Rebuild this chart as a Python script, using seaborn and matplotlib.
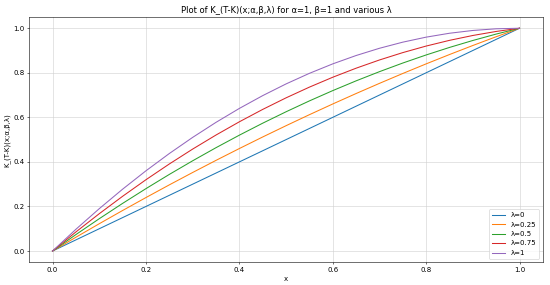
import pandas as pd
import seaborn as sns
import matplotlib
matplotlib.use("Agg")
import matplotlib.pyplot as plt

# values (x grid and curve heights per lambda)
x_vals = [0.0, 0.05, 0.1, 0.15, 0.2, 0.25, 0.3, 0.35, 0.4, 0.45, 0.5,
          0.55, 0.6, 0.65, 0.7, 0.75, 0.8, 0.85, 0.9, 0.95, 1.0]
lam_labels = ["λ=0", "λ=0.25", "λ=0.5", "λ=0.75", "λ=1"]
k_lam0 = [0.0, 0.05, 0.10, 0.15, 0.20, 0.25, 0.30, 0.35, 0.40, 0.45, 0.50,
          0.55, 0.60, 0.65, 0.70, 0.75, 0.80, 0.85, 0.90, 0.95, 1.0]
k_lam025 = [0.0, 0.0619, 0.1225, 0.1819, 0.24, 0.2969, 0.3525, 0.4069, 0.46, 0.5119, 0.5625,
            0.6119, 0.66, 0.7069, 0.7525, 0.7969, 0.84, 0.8819, 0.9225, 0.9619, 1.0]
k_lam05 = [0.0, 0.0738, 0.145, 0.2138, 0.28, 0.3438, 0.405, 0.4638, 0.52, 0.5738, 0.625,
           0.6738, 0.72, 0.7638, 0.805, 0.8438, 0.88, 0.9138, 0.945, 0.9738, 1.0]
k_lam075 = [0.0, 0.0856, 0.1675, 0.2456, 0.32, 0.3906, 0.4575, 0.5206, 0.58, 0.6356, 0.6875,
            0.7356, 0.78, 0.8206, 0.8575, 0.8906, 0.92, 0.9456, 0.9675, 0.9856, 1.0]
k_lam1 = [0.0, 0.0975, 0.19, 0.2775, 0.36, 0.4375, 0.51, 0.5775, 0.64, 0.6975, 0.75,
          0.7975, 0.84, 0.8775, 0.91, 0.9375, 0.96, 0.9775, 0.99, 0.9975, 1.0]

series = [k_lam0, k_lam025, k_lam05, k_lam075, k_lam1]
rows = []
for lab, ys in zip(lam_labels, series):
    for xv, yv in zip(x_vals, ys):
        rows.append({"x": xv, "K": yv, "lam": lab})
df = pd.DataFrame(rows)

fig, ax = plt.subplots(figsize=(11, 5.7), dpi=50)
sns.lineplot(data=df, x="x", y="K", hue="lam", hue_order=lam_labels,
             palette="tab10", linewidth=1.5, ax=ax, legend=False)

ax.set_title("Plot of K_(T-K)(x;α,β,λ) for α=1, β=1 and various λ")
ax.set_xlabel("x")
ax.set_ylabel("K_(T-K)(x;α,β,λ)")
ax.grid(True, color="#d0d0d0")
# legend built from the drawn lines so the swatches carry the line colours
ax.legend(ax.get_lines()[:len(lam_labels)], lam_labels, loc="lower right")

plt.subplots_adjust(left=0.053, right=0.987, top=0.94, bottom=0.08)
plt.savefig("out.png", dpi=50)
